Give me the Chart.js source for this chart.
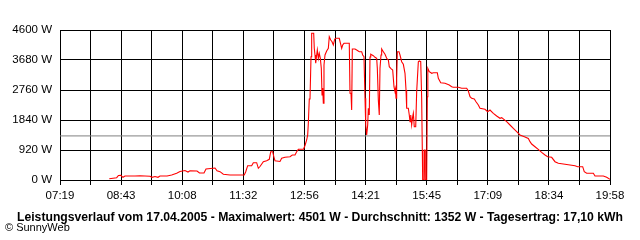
<!DOCTYPE html>
<html><head><meta charset="utf-8">
<script src="https://cdn.jsdelivr.net/npm/chart.js"></script>
<style>
html,body{margin:0;padding:0;background:#fff}
#wrap{position:relative;width:640px;height:240px}
canvas{position:absolute;left:0;top:0}
.t{position:absolute;font-family:"Liberation Sans",Arial,sans-serif;white-space:nowrap;color:#000}
#title{left:0;width:640px;text-align:center;top:211px;font-weight:bold;font-size:12.2px;line-height:12px}
#credit{left:5px;top:222px;font-size:11px;line-height:11px}
</style>
</head><body>
<div id="wrap">
<canvas id="c" width="640" height="240"></canvas>
<div class="t" id="title"></div>
<div class="t" id="credit"></div>
</div>
<script>
const tickLabels = ["07:19","08:43","10:08","11:32","12:56","14:21","15:45","17:09","18:34","19:58"];
const yTicks = [0,920,1840,2760,3680,4600];
const averageW = 1352;
const titleText = "Leistungsverlauf vom 17.04.2005 - Maximalwert: 4501 W - Durchschnitt: 1352 W - Tagesertrag: 17,10 kWh";
const creditText = "\u00A9 SunnyWeb";
// time in minutes after midnight
const timesMin = [507,517.2,519.7,522.8,525.9,528.7,542.5,549.4,556.3,563.2,
566,570.1,574.2,577,586.7,593.1,600,604.6,611.5,615.6,
618.4,628.1,631.5,637.7,640.5,652.9,655.7,659.8,664.4,673.6,
693.3,695.3,698,703.5,705.8,710.4,712.7,715,719.6,724.2,
727.8,729.8,732.5,734.3,735.7,742.6,744.9,749.5,756.4,759.6,
763.3,765.6,767.9,775,777.1,779.4,780.8,781.7,783,784,
785.4,786.3,789.1,789.9,790.9,791.9,793.2,794.1,795.5,796.8,
798.2,799.6,800.6,801.5,802.4,803.3,804.7,807,809.3,810.6,
812.6,814.4,816.2,818.1,819.9,824.4,826.4,827.7,829.1,830.9,
838.2,839.2,840.6,841.5,842.4,846.1,848.4,852,855.3,856.7,
858.5,859.9,860.9,862.2,863.6,864.5,865.8,866.8,867.8,871.4,
873.7,876,876.9,878.3,879.6,880.6,882,882.9,885.2,887.5,
889.8,892.1,893.4,895.4,898.1,899.9,901.3,902,902.7,903.6,
904.5,906.8,908.2,910.5,912.8,915.1,916.5,917.4,919.7,921,
922,923,924.3,925.7,926.6,927.9,929.9,931.2,933.5,934.8,
936.8,938.1,939,939.5,941.3,941.7,942.7,943.1,945,945.9,
946.6,948.6,952,954.2,959.7,961.1,964.4,970.3,976.2,979.5,
981.8,988.7,993.3,1000.2,1002.5,1004.8,1007.1,1010.7,1013.1,1016.3,
1018.6,1025.5,1029.2,1032.4,1037,1041.6,1046.2,1048.5,1055.4,1060,
1064.6,1069.2,1073.8,1080.7,1085.3,1087.6,1089.9,1094.5,1099,1103.7,
1108.3,1112,1117.5,1122.1,1126.7,1135.9,1149.7,1153.4,1160.3,1162.5,
1165.8,1175,1177.3,1188.8,1193.4,1198];
const powerW = [40,71,138,144,83,123,123,132,123,113,
83,107,83,123,123,153,205,261,291,245,
285,276,215,215,337,368,285,255,175,153,
153,255,439,439,531,531,359,414,561,592,
635,868,868,696,592,567,665,696,715,767,
767,868,941,941,1058,1227,1380,1739,2484,2484,
3781,4501,4501,4039,3833,3579,3833,3987,3732,3885,
3741,3425,2607,2821,2352,3527,3833,3956,4039,4395,
4293,4241,4140,4324,4346,4346,4161,4039,4140,4192,
4192,2659,2659,2147,4017,4017,3987,3935,3935,3833,
3781,2505,1687,1380,1687,2199,1993,3772,3855,3812,
3763,3732,3425,2453,1993,3425,3833,4017,3935,3855,
3732,3680,3475,3425,3373,2861,2708,2791,2505,3119,
3935,3935,3833,3628,3548,3272,2760,2199,2199,1993,
1788,1993,1687,1941,2045,1635,1635,2708,3628,3649,
3628,2505,920,0,0,920,920,0,0,2555,
3425,3321,3272,3291,3291,3119,2984,2965,2913,2861,
2843,2843,2812,2812,2729,2555,2505,2484,2401,2300,
2199,2168,2095,2147,2045,1963,1892,1911,1788,1687,
1585,1481,1380,1319,1273,1175,1104,1021,941,849,
767,715,696,561,512,481,439,408,408,255,
205,205,123,123,83,21];

document.getElementById('title').textContent = titleText;
document.getElementById('credit').textContent = creditText;

const toMin = s => { const [h,m] = s.split(':').map(Number); return h*60+m; };
const xMin = toMin(tickLabels[0]);
const xMax = toMin(tickLabels[tickLabels.length-1]);
const nGrid = (tickLabels.length-1)*2;
const FONT = '"Liberation Sans", Arial, sans-serif';

new Chart(document.getElementById('c'), {
  type: 'line',
  data: {
    datasets: [
      { data: timesMin.map((t,i)=>({x:t,y:powerW[i]})), borderColor:'#ff0000', borderWidth:1.1, pointRadius:0, tension:0, fill:false },
      { data: [{x:xMin,y:averageW},{x:xMax,y:averageW}], borderColor:'#808080', borderWidth:1, pointRadius:0, fill:false }
    ]
  },
  options: {
    responsive:false, animation:false, devicePixelRatio:1,
    layout:{ padding:{ left:0, right:30, top:30, bottom:35 } },
    plugins:{ legend:{display:false}, tooltip:{enabled:false}, title:{display:false} },
    scales:{
      x:{
        type:'linear', min:xMin, max:xMax,
        afterBuildTicks: s => { const a=[]; for(let i=0;i<=nGrid;i++) a.push({value: xMin + (xMax-xMin)*i/nGrid}); s.ticks = a; },
        afterFit: s => { s.height = 25; },
        grid:{ color:'#000', lineWidth:1, tickLength:5, drawTicks:true },
        border:{ display:true, color:'#000' },
        ticks:{ autoSkip:false, maxRotation:0, minRotation:0, color:'#000', padding:4, font:{family:FONT, size:11.5},
          callback:(v,i)=> i%2===0 ? tickLabels[i/2] : '' }
      },
      y:{
        min:yTicks[0], max:yTicks[yTicks.length-1],
        afterBuildTicks: s => { s.ticks = yTicks.map(v=>({value:v})); },
        afterFit: s => { s.width = 60; },
        grid:{ color:'#000', lineWidth:1, drawTicks:false },
        border:{ display:true, color:'#000' },
        ticks:{ color:'#000', padding:8, font:{family:FONT, size:11.5}, callback: v => v + ' W' }
      }
    }
  }
});
</script>
</body></html>
